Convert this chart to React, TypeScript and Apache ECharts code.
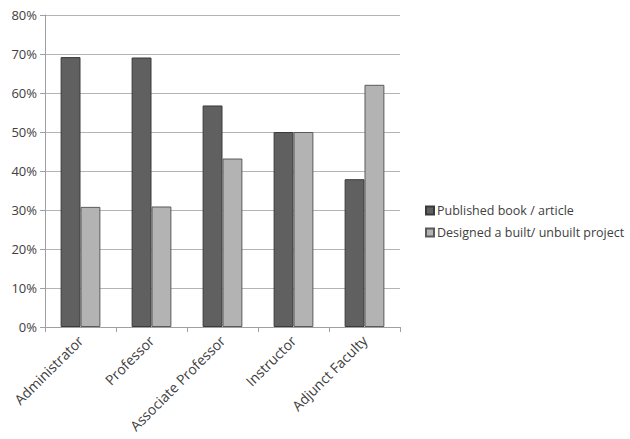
import React, { useEffect, useRef } from "react";
import * as echarts from "echarts";

const categories = ["Administrator", "Professor", "Associate Professor", "Instructor", "Adjunct Faculty"];
const published = [69.2, 69.1, 56.8, 50, 37.9];
const designed = [30.8, 30.9, 43.2, 50, 62.1];
const seriesNames = ["Published book / article", "Designed a built/ unbuilt project"];

export default function App() {
  const ref = useRef<HTMLDivElement>(null);
  useEffect(() => {
    const chart = echarts.init(ref.current!, null, { renderer: "svg" });
    const font = "'Open Sans', 'Liberation Sans', sans-serif";
    chart.setOption({
      animation: false,
      backgroundColor: "#ffffff",
      grid: { left: 45, top: 15, right: 230, bottom: 112, containLabel: false, outerBoundsMode: "none" },
      legend: {
        orient: "vertical",
        left: 420,
        top: 199,
        itemWidth: 8,
        itemHeight: 8,
        itemGap: 9,
        icon: "rect",
        textStyle: { fontFamily: font, fontSize: 12.5, color: "#404040", padding: [0, 0, 0, -2] },
        data: seriesNames,
      },
      xAxis: {
        type: "category",
        data: categories,
        boundaryGap: true,
        axisLine: { lineStyle: { color: "#a0a0a0", width: 1 } },
        axisTick: { show: true, alignWithLabel: false, length: 5, lineStyle: { color: "#a0a0a0" } },
        axisLabel: { rotate: 45, fontFamily: font, fontSize: 14, color: "#404040", margin: 11, interval: 0 },
      },
      yAxis: {
        type: "value",
        min: 0,
        max: 80,
        interval: 10,
        axisLine: { show: true, lineStyle: { color: "#a0a0a0", width: 1 } },
        axisTick: { show: true, length: 5, lineStyle: { color: "#a0a0a0" } },
        splitLine: { lineStyle: { color: "#b4b4b4", width: 1 } },
        axisLabel: { formatter: "{value}%", fontFamily: font, fontSize: 13, color: "#404040", margin: 8 },
      },
      series: [
        {
          name: seriesNames[0],
          type: "bar",
          data: published,
          barGap: "0%",
          barCategoryGap: "44%",
          itemStyle: { color: "#606060", borderColor: "#3a3a3a", borderWidth: 1 },
        },
        {
          name: seriesNames[1],
          type: "bar",
          data: designed,
          barGap: "0%",
          barCategoryGap: "44%",
          itemStyle: { color: "#b3b3b3", borderColor: "#5a5a5a", borderWidth: 1 },
        },
      ],
    });
    return () => chart.dispose();
  }, []);
  return <div ref={ref} style={{ position: "fixed", left: 0, top: 0, width: 630, height: 439 }} />;
}
